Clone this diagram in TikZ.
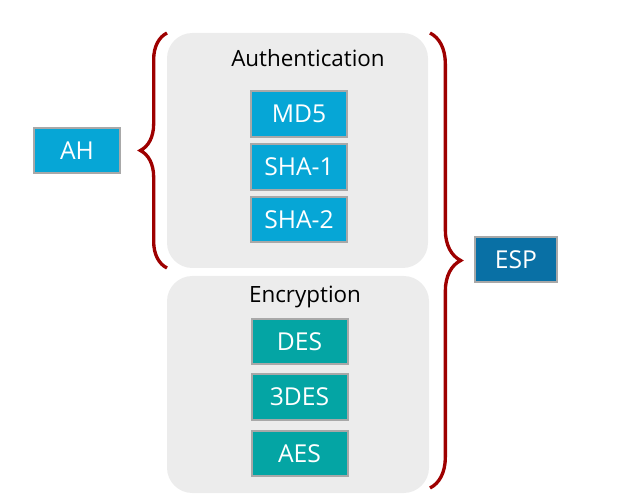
\documentclass[tikz,border=0pt]{standalone}
\usepackage{fontspec}
\setmainfont{Open Sans}
\usepackage{xcolor}
\usetikzlibrary{decorations.pathreplacing}
\definecolor{panelgray}{RGB}{236,236,236}
\definecolor{authblue}{RGB}{6,166,214}
\definecolor{espblue}{RGB}{9,112,165}
\definecolor{encteal}{RGB}{4,165,164}
\definecolor{bracered}{RGB}{158,0,0}
\definecolor{bevelgray}{RGB}{168,168,168}

\tikzset{
  algobox/.style={draw=bevelgray,line width=1.5pt,text=white,minimum width=72pt,
    minimum height=34pt,inner sep=0pt,font=\fontsize{18.5}{20}\selectfont},
  panel/.style={fill=panelgray,rounded corners=19pt},
  heading/.style={font=\fontsize{16.8}{20}\selectfont},
  curly/.style={draw=bracered,line width=2.5pt,decorate,decoration={brace,amplitude=#1}}
}

\begin{document}
\begin{tikzpicture}[x=0.75pt,y=-0.75pt]
                \useasboundingbox (0,0) rectangle (621,502);
                % the two grey panels
                \fill[panel] (167,33) rectangle (428,268);
                \fill[panel] (167,276) rectangle (429,493);
                \node[heading] (auth) at (308,58) {Authentication};
                \node[heading] (enc) at (305,297) {Encryption};
                \foreach \n/\t/\y in {md5/MD5/114,sha1/SHA-1/167,sha2/SHA-2/219.5} {
                    \node[algobox,fill=authblue] (\n) at (299,\y) {\t};
                }
                \foreach \n/\t/\y in {des/DES/341.5,tdes/3DES/397,aes/AES/453.5} {
                    \node[algobox,fill=encteal] (\n) at (299.5,\y) {\t};
                }
                \node[algobox,fill=authblue,minimum width=64pt] (ah) at (77,150.5) {AH};
                \node[algobox,fill=espblue,minimum width=61pt] (esp) at (516,259.5) {ESP};
                % braces
                \coordinate (ltop) at (167,33);
                \coordinate (lbot) at (167,268);
                \coordinate (rtop) at (430,33);
                \coordinate (rbot) at (430,488);
                \draw[curly=20pt] (lbot) -- (ltop);
                \draw[curly=23pt] (rtop) -- (rbot);
            \end{tikzpicture}
\end{document}
